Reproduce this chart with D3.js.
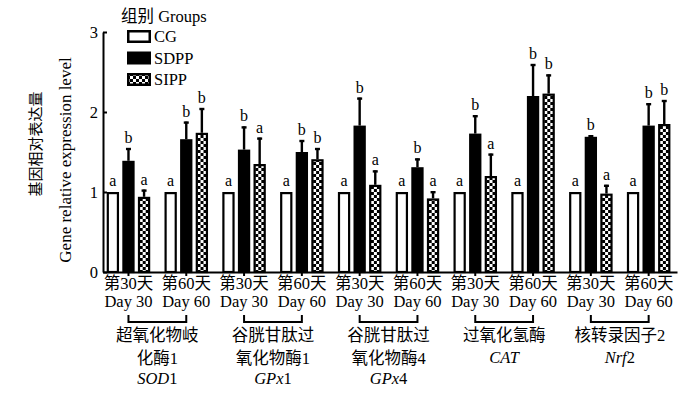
<!DOCTYPE html>
<html>
<head>
<meta charset="utf-8">
<script src="https://cdn.jsdelivr.net/npm/d3@7/dist/d3.min.js"></script>
<style>
  html, body { margin: 0; padding: 0; background: #fff; }
  svg { display: block; }
  text { font-family: "Liberation Serif", "Times New Roman", "Noto Sans CJK SC", serif; fill: #000; }
</style>
</head>
<body>
<svg id="chart" width="700" height="398"></svg>
<script>
// ---- data ----
const series = ["CG", "SDPP", "SIPP"];
const timeCn = ["第30天", "第60天", "第30天", "第60天", "第30天", "第60天", "第30天", "第60天", "第30天", "第60天"];
const timeEn = ["Day 30", "Day 60", "Day 30", "Day 60", "Day 30", "Day 60", "Day 30", "Day 60", "Day 30", "Day 60"];
const subgroups = d3.range(10).map(i => "g" + i);
const cgValues   = [1, 1, 1, 1, 1, 1, 1, 1, 1, 1];
const sdppValues = [1.39, 1.66, 1.53, 1.50, 1.83, 1.31, 1.73, 2.20, 1.69, 1.83];
const sdppErrors = [0.16, 0.22, 0.29, 0.15, 0.35, 0.11, 0.23, 0.40, 0.02, 0.28];
const sippValues = [0.94, 1.74, 1.35, 1.41, 1.09, 0.92, 1.20, 2.23, 0.98, 1.85];
const sippErrors = [0.09, 0.31, 0.33, 0.14, 0.18, 0.09, 0.28, 0.24, 0.11, 0.30];
const cgLetters   = ["a", "a", "a", "a", "a", "a", "a", "a", "a", "a"];
const sdppLetters = ["b", "b", "b", "b", "b", "b", "b", "b", "b", "b"];
const sippLetters = ["a", "b", "a", "b", "a", "a", "a", "b", "a", "b"];
const geneCn = [["超氧化物岐", "化酶1"], ["谷胱甘肽过", "氧化物酶1"], ["谷胱甘肽过", "氧化物酶4"], ["过氧化氢酶"], ["核转录因子2"]];
const geneSym = [["SOD", "1"], ["GPx", "1"], ["GPx", "4"], ["CAT", ""], ["Nrf", "2"]];
const yTicks = [0, 1, 2, 3];

// ---- build ----
const svg = d3.select("#chart");
const defs = svg.append("defs");
const pat = defs.append("pattern").attr("id", "checker")
  .attr("patternUnits", "userSpaceOnUse").attr("width", 6).attr("height", 6);
pat.append("rect").attr("width", 6).attr("height", 6).attr("fill", "#000");
pat.append("rect").attr("x", 0).attr("y", 0).attr("width", 3).attr("height", 3).attr("fill", "#fff");
pat.append("rect").attr("x", 3).attr("y", 3).attr("width", 3).attr("height", 3).attr("fill", "#fff");

const fills = { CG: "#fff", SDPP: "#000", SIPP: "url(#checker)" };

const y = d3.scaleLinear().domain([0, 3]).range([272, 32]);
const x0 = d3.scaleBand().domain(subgroups).range([103, 677])
  .paddingInner(0.247).paddingOuter(0.089).align(0.36);
const x1 = d3.scaleBand().domain(series).range([0, x0.bandwidth()]).paddingInner(0.21);

const rows = subgroups.map((g, i) => ({
  g, i,
  bars: [
    { s: "CG", v: cgValues[i], e: 0, l: cgLetters[i] },
    { s: "SDPP", v: sdppValues[i], e: sdppErrors[i], l: sdppLetters[i] },
    { s: "SIPP", v: sippValues[i], e: sippErrors[i], l: sippLetters[i] }
  ]
}));

const grp = svg.append("g").selectAll("g").data(rows).join("g")
  .attr("transform", d => `translate(${x0(d.g)},0)`);

const sw = 2.2;
grp.selectAll("rect").data(d => d.bars).join("rect")
  .attr("x", d => x1(d.s) + sw / 2)
  .attr("width", x1.bandwidth() - sw)
  .attr("y", d => y(d.v) + sw / 2)
  .attr("height", d => y(0) - y(d.v) - sw / 2)
  .attr("fill", d => fills[d.s])
  .attr("stroke", "#000").attr("stroke-width", sw);

// error bars
const eb = grp.selectAll("g.err").data(d => d.bars.filter(b => b.e > 0)).join("g").attr("class", "err");
eb.append("line")
  .attr("x1", d => x1(d.s) + x1.bandwidth() / 2).attr("x2", d => x1(d.s) + x1.bandwidth() / 2)
  .attr("y1", d => y(d.v)).attr("y2", d => y(d.v + d.e))
  .attr("stroke", "#000").attr("stroke-width", 2.4);
eb.append("line")
  .attr("x1", d => x1(d.s) + x1.bandwidth() / 2 - 2.5).attr("x2", d => x1(d.s) + x1.bandwidth() / 2 + 2.5)
  .attr("y1", d => y(d.v + d.e) + 1).attr("y2", d => y(d.v + d.e) + 1)
  .attr("stroke", "#000").attr("stroke-width", 2.4);

// significance letters
grp.selectAll("text.sig").data(d => d.bars).join("text").attr("class", "sig")
  .attr("x", d => x1(d.s) + x1.bandwidth() / 2)
  .attr("y", d => y(d.v + d.e) - (d.e > 0 ? 5 : 6))
  .attr("text-anchor", "middle").style("font-size", "16px")
  .text(d => d.l);

// y axis
const yAxis = svg.append("g").attr("transform", "translate(103,0)")
  .call(d3.axisLeft(y).tickValues(yTicks).tickFormat(d3.format("d")).tickSizeInner(-4).tickSizeOuter(0).tickPadding(5));
yAxis.select(".domain").attr("stroke-width", 2);
yAxis.selectAll(".tick line").attr("stroke-width", 2);
yAxis.selectAll(".tick text").style("font-size", "16.5px").style("font-family", '"Liberation Serif", serif');

// x axis
const xAxis = svg.append("g").attr("transform", "translate(0,272)")
  .call(d3.axisBottom(x0).tickSizeInner(4).tickSizeOuter(0).tickFormat(""));
xAxis.select(".domain").attr("stroke-width", 2);
xAxis.selectAll(".tick line").attr("stroke-width", 2);

// x labels
const cx = g => x0(g) + x0.bandwidth() / 2;
svg.append("g").selectAll("text").data(subgroups).join("text")
  .attr("x", d => cx(d)).attr("y", 289).attr("text-anchor", "middle")
  .style("font-size", "16.5px").text((d, i) => timeCn[i]);
svg.append("g").selectAll("text").data(subgroups).join("text")
  .attr("x", d => cx(d)).attr("y", 307).attr("text-anchor", "middle")
  .style("font-size", "16.5px").text((d, i) => timeEn[i]);

// brackets and gene labels
const genes = geneCn.map((c, k) => ({ k, a: subgroups[2 * k], b: subgroups[2 * k + 1] }));
const br = svg.append("g").attr("fill", "none").attr("stroke", "#000").attr("stroke-width", 2);
br.selectAll("path").data(genes).join("path")
  .attr("d", d => `M${cx(d.a)},315V322H${cx(d.b)}V315`);

const gl = svg.append("g").selectAll("g").data(genes).join("g")
  .attr("transform", d => `translate(${(cx(d.a) + cx(d.b)) / 2},0)`);
gl.each(function (d) {
  const g = d3.select(this);
  const lines = geneCn[d.k];
  lines.forEach((t, j) => {
    g.append("text").attr("x", 0).attr("y", 341 + j * 23).attr("text-anchor", "middle")
      .style("font-size", "16.5px").text(t);
  });
  const sy = 341 + lines.length * 21.5;
  const st = g.append("text").attr("x", 0).attr("y", sy).attr("text-anchor", "middle").style("font-size", "16.5px");
  st.append("tspan").style("font-style", "italic").text(geneSym[d.k][0]);
  if (geneSym[d.k][1]) st.append("tspan").text(geneSym[d.k][1]);
});

// y titles
svg.append("text").attr("transform", "translate(41,144) rotate(-90)").attr("text-anchor", "middle")
  .style("font-size", "15px").text("基因相对表达量");
svg.append("text").attr("transform", "translate(71,160) rotate(-90)").attr("text-anchor", "middle")
  .style("font-size", "17px").text("Gene relative expression level");

// legend
svg.append("text").attr("x", 121).attr("y", 22).style("font-size", "16.5px").text("组别 Groups");
const lg = svg.append("g").selectAll("g").data(series).join("g")
  .attr("transform", (d, i) => `translate(127,${30 + i * 21.5})`);
lg.append("rect").attr("x", 1.25).attr("y", 1.25).attr("width", 21.5).attr("height", 10.5)
  .attr("fill", d => fills[d]).attr("stroke", "#000").attr("stroke-width", 2.5);
lg.append("text").attr("x", 27).attr("y", 12).style("font-size", "16.5px").text(d => d);
</script>
</body>
</html>
